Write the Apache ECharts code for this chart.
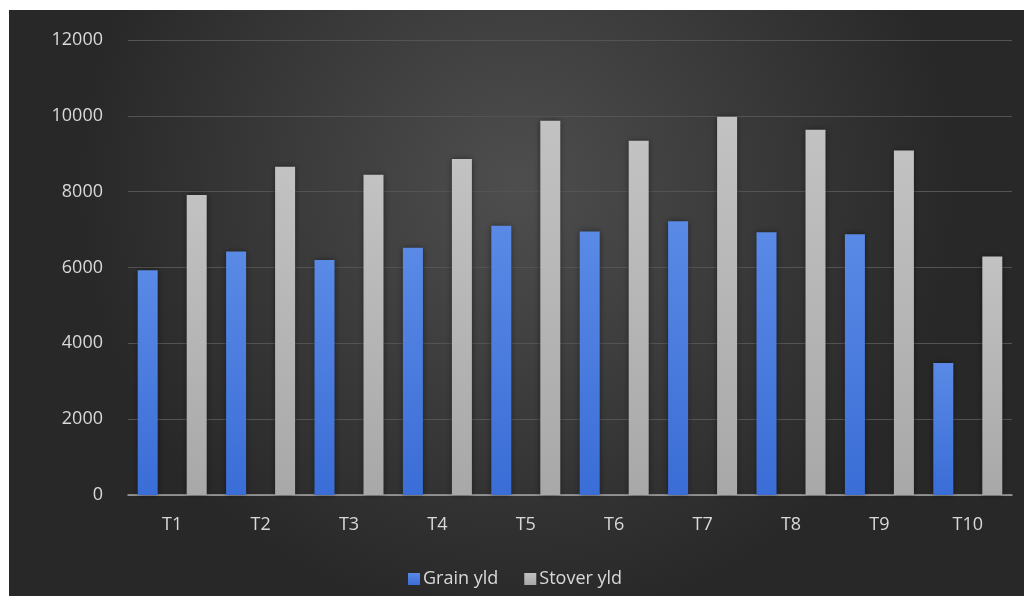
<!DOCTYPE html>
<html>
<head>
<meta charset="utf-8">
<script src="https://cdn.jsdelivr.net/npm/echarts@6/dist/echarts.min.js"></script>
<style>
  html, body { margin: 0; padding: 0; background: #ffffff; width: 1024px; height: 596px; overflow: hidden; }
  #chart { position: absolute; left: 9px; top: 10px; width: 1015px; height: 586px; }
</style>
</head>
<body>
<div id="chart"></div>
<script>
const categories = ['T1', 'T2', 'T3', 'T4', 'T5', 'T6', 'T7', 'T8', 'T9', 'T10'];
const grainYld = [5930, 6420, 6200, 6520, 7100, 6950, 7220, 6930, 6880, 3480];
const stoverYld = [7910, 8660, 8445, 8860, 9870, 9340, 9975, 9630, 9085, 6290];
const seriesNames = ['Grain yld', 'Stover yld'];

const chart = echarts.init(document.getElementById('chart'));
const labelFont = '"Open Sans", "Noto Sans", sans-serif';
chart.setOption({
  backgroundColor: {
    type: 'radial', x: 0.5, y: 0.3, r: 0.75,
    colorStops: [{ offset: 0, color: '#4e4e4e' }, { offset: 1, color: '#282828' }]
  },
  animation: false,
  grid: { left: 119, right: 12, top: 30, bottom: 101 },
  legend: {
    bottom: 3,
    left: 394,
    itemWidth: 12,
    itemHeight: 12,
    itemGap: 26,
    icon: 'rect',
    textStyle: { color: '#d9d9d9', fontSize: 18, fontFamily: labelFont, padding: [0, 0, 0, -2] },
    data: seriesNames
  },
  xAxis: {
    type: 'category',
    data: categories,
    axisLine: { lineStyle: { color: '#a6a6a6', width: 1.5 } },
    axisTick: { show: false },
    axisLabel: { color: '#d9d9d9', fontSize: 18, fontFamily: labelFont, margin: 21 }
  },
  yAxis: {
    type: 'value',
    min: 0, max: 12000, interval: 2000,
    axisLine: { show: false },
    axisTick: { show: false },
    axisLabel: { color: '#d9d9d9', fontSize: 18, fontFamily: labelFont, margin: 25,
      formatter: function (v) { return String(v); } },
    splitLine: { lineStyle: { color: '#545454', width: 1 } }
  },
  series: [
    {
      name: seriesNames[0], type: 'bar', data: grainYld,
      barWidth: 20, barGap: '145%',
      itemStyle: {
        color: { type: 'linear', x: 0, y: 0, x2: 0, y2: 1,
          colorStops: [{ offset: 0, color: '#5a8ae6' }, { offset: 1, color: '#3a6dd6' }] },
        shadowBlur: 6, shadowColor: 'rgba(0,0,0,0.45)'
      }
    },
    {
      name: seriesNames[1], type: 'bar', data: stoverYld,
      barWidth: 20,
      itemStyle: {
        color: { type: 'linear', x: 0, y: 0, x2: 0, y2: 1,
          colorStops: [{ offset: 0, color: '#c2c2c2' }, { offset: 1, color: '#a8a8a8' }] },
        shadowBlur: 6, shadowColor: 'rgba(0,0,0,0.45)'
      }
    }
  ]
});
</script>
</body>
</html>
